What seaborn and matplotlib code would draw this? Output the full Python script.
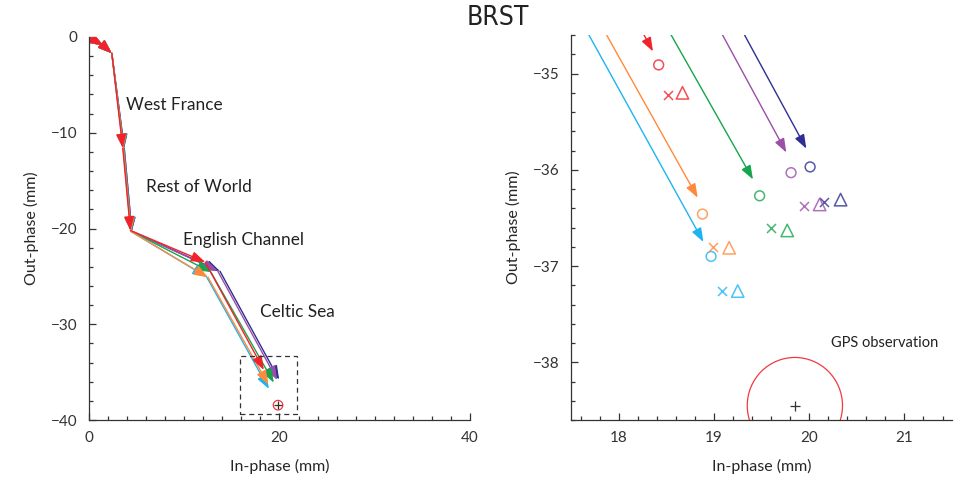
import matplotlib
matplotlib.use("Agg")
import matplotlib.pyplot as plt
import seaborn as sns
from matplotlib.patches import FancyArrowPatch, Ellipse, Rectangle
from matplotlib.ticker import MultipleLocator

# ---------------- data ----------------
models = ["navy", "purple", "green", "cyan", "orange", "red"]
palette = {
    "red": "#f0232b",
    "orange": "#ff8a3c",
    "cyan": "#1eb4f0",
    "green": "#16a54d",
    "purple": "#9a4fa8",
    "navy": "#2d3091",
}
# cumulative (in-phase, out-phase) vertices: start, two local steps,
# West France, Rest of World, English Channel, Celtic Sea
path_x = {
    "red":    [0.0, 1.5, 2.4, 3.55, 4.35, 12.20, 18.36],
    "orange": [0.0, 1.5, 2.4, 3.60, 4.40, 12.50, 18.83],
    "cyan":   [0.0, 1.5, 2.4, 3.60, 4.40, 12.35, 18.89],
    "green":  [0.0, 1.5, 2.4, 3.65, 4.45, 12.80, 19.41],
    "purple": [0.0, 1.5, 2.4, 3.70, 4.50, 13.50, 19.76],
    "navy":   [0.0, 1.5, 2.4, 3.70, 4.50, 13.75, 19.97],
}
path_y = {
    "red":    [0.0, -0.9, -1.7, -11.6, -20.2, -23.50, -34.77],
    "orange": [0.0, -0.9, -1.7, -11.6, -20.3, -25.10, -36.29],
    "cyan":   [0.0, -0.9, -1.7, -11.6, -20.3, -25.05, -36.75],
    "green":  [0.0, -0.9, -1.7, -11.6, -20.3, -24.55, -36.10],
    "purple": [0.0, -0.9, -1.7, -11.6, -20.3, -24.40, -35.82],
    "navy":   [0.0, -0.9, -1.7, -11.6, -20.3, -24.45, -35.78],
}
# end-point estimates by other solutions (circle, cross, triangle)
circle_x = {"red": 18.42, "orange": 18.88, "cyan": 18.97, "green": 19.48, "purple": 19.81, "navy": 20.01}
circle_y = {"red": -34.91, "orange": -36.46, "cyan": -36.90, "green": -36.27, "purple": -36.03, "navy": -35.97}
cross_x = {"red": 18.52, "orange": 18.99, "cyan": 19.08, "green": 19.60, "purple": 19.95, "navy": 20.16}
cross_y = {"red": -35.22, "orange": -36.80, "cyan": -37.26, "green": -36.60, "purple": -36.38, "navy": -36.33}
tri_x = {"red": 18.67, "orange": 19.16, "cyan": 19.25, "green": 19.77, "purple": 20.11, "navy": 20.33}
tri_y = {"red": -35.20, "orange": -36.81, "cyan": -37.26, "green": -36.63, "purple": -36.36, "navy": -36.31}

region_labels = ["West France", "Rest of World", "English Channel", "Celtic Sea"]
region_label_x = [3.9, 6.0, 9.9, 18.0]
region_label_y = [-7.1, -15.7, -21.2, -28.7]

gps_x, gps_y, gps_r = 19.85, -38.45, 0.5
zoom_box = (15.85, -39.35, 6.0, 6.0)

left_xticks = [0, 20, 40]
left_yticks = [0, -10, -20, -30, -40]
right_xticks = [18, 19, 20, 21]
right_yticks = [-35, -36, -37, -38]

# ---------------- style ----------------
sns.set_style("ticks")
plt.rcParams["font.family"] = ["Lato", "DejaVu Sans"]
plt.rcParams["axes.edgecolor"] = "#333333"
plt.rcParams["xtick.color"] = "#333333"
plt.rcParams["ytick.color"] = "#333333"
plt.rcParams["text.color"] = "#222222"

fig = plt.figure(figsize=(9.69, 4.83), dpi=100)
ax1 = fig.add_axes([0.0918, 0.1304, 0.3932, 0.7930])
ax2 = fig.add_axes([0.5893, 0.1304, 0.3932, 0.7970])

arrow_style = "-|>,head_length=0.6,head_width=0.22"


def draw_arrows(ax, m, lw):
    xs, ys = path_x[m], path_y[m]
    for i in range(len(xs) - 1):
        a = FancyArrowPatch((xs[i], ys[i]), (xs[i + 1], ys[i + 1]),
                            arrowstyle=arrow_style, mutation_scale=14,
                            color=palette[m], lw=lw, shrinkA=0, shrinkB=0)
        ax.add_patch(a)


for m in models:
    draw_arrows(ax1, m, 1.0)
    draw_arrows(ax2, m, 1.0)

# markers in the zoomed panel
for m in models:
    c = palette[m]
    sns.scatterplot(x=[circle_x[m]], y=[circle_y[m]], ax=ax2, marker="o", s=50,
                    facecolor="none", edgecolor=c, linewidth=1.1, alpha=0.8, zorder=3)
    sns.scatterplot(x=[cross_x[m]], y=[cross_y[m]], ax=ax2, marker="x", s=42,
                    color=c, linewidth=1.1, alpha=0.8, zorder=3)
    sns.scatterplot(x=[tri_x[m]], y=[tri_y[m]], ax=ax2, marker="^", s=80,
                    facecolor="none", edgecolor=c, linewidth=1.1, alpha=0.8, zorder=3)

# GPS observation
for ax in (ax1, ax2):
    ax.add_patch(Ellipse((gps_x, gps_y), 2 * gps_r, 2 * gps_r, fill=False,
                         edgecolor="#f03a40", lw=0.9))
    sns.scatterplot(x=[gps_x], y=[gps_y], ax=ax, marker="+", s=55 if ax is ax2 else 30,
                    color="#333333", linewidth=0.9, zorder=4)
ax2.text(20.79, -37.8, "GPS observation", ha="center", va="center", fontsize=10.5)

ax1.add_patch(Rectangle(zoom_box[:2], zoom_box[2], zoom_box[3], fill=False,
                        ls=(0, (4, 3)), lw=0.9, edgecolor="#333333"))

for t, x, y in zip(region_labels, region_label_x, region_label_y):
    ax1.text(x, y, t, ha="left", va="center", fontsize=12.4)

# axes
ax1.set_xlim(0, 40)
ax1.set_ylim(-40, 0)
ax2.set_xlim(17.5, 21.5)
ax2.set_ylim(-38.6, -34.6)
ax1.set_xticks(left_xticks)
ax1.set_yticks(left_yticks)
ax2.set_xticks(right_xticks)
ax2.set_yticks(right_yticks)
ax1.xaxis.set_minor_locator(MultipleLocator(2))
ax1.yaxis.set_minor_locator(MultipleLocator(2))
ax2.xaxis.set_minor_locator(MultipleLocator(0.2))
ax2.yaxis.set_minor_locator(MultipleLocator(0.2))

for ax in (ax1, ax2):
    sns.despine(ax=ax)
    ax.tick_params(which="major", direction="in", length=5, width=0.9, pad=8, labelsize=11)
    ax.tick_params(which="minor", direction="in", length=3, width=0.9)
    for s in ("left", "bottom"):
        ax.spines[s].set_linewidth(0.9)
    ax.set_xlabel("In-phase (mm)", fontsize=11.5, labelpad=10)
    ax.set_ylabel("Out-phase (mm)", fontsize=11.5, labelpad=9)

fig.text(0.514, 0.962, "BRST", ha="center", va="center", fontsize=19,
         family="DejaVu Sans", fontstretch="condensed")

fig.savefig("out.png", dpi=100)
